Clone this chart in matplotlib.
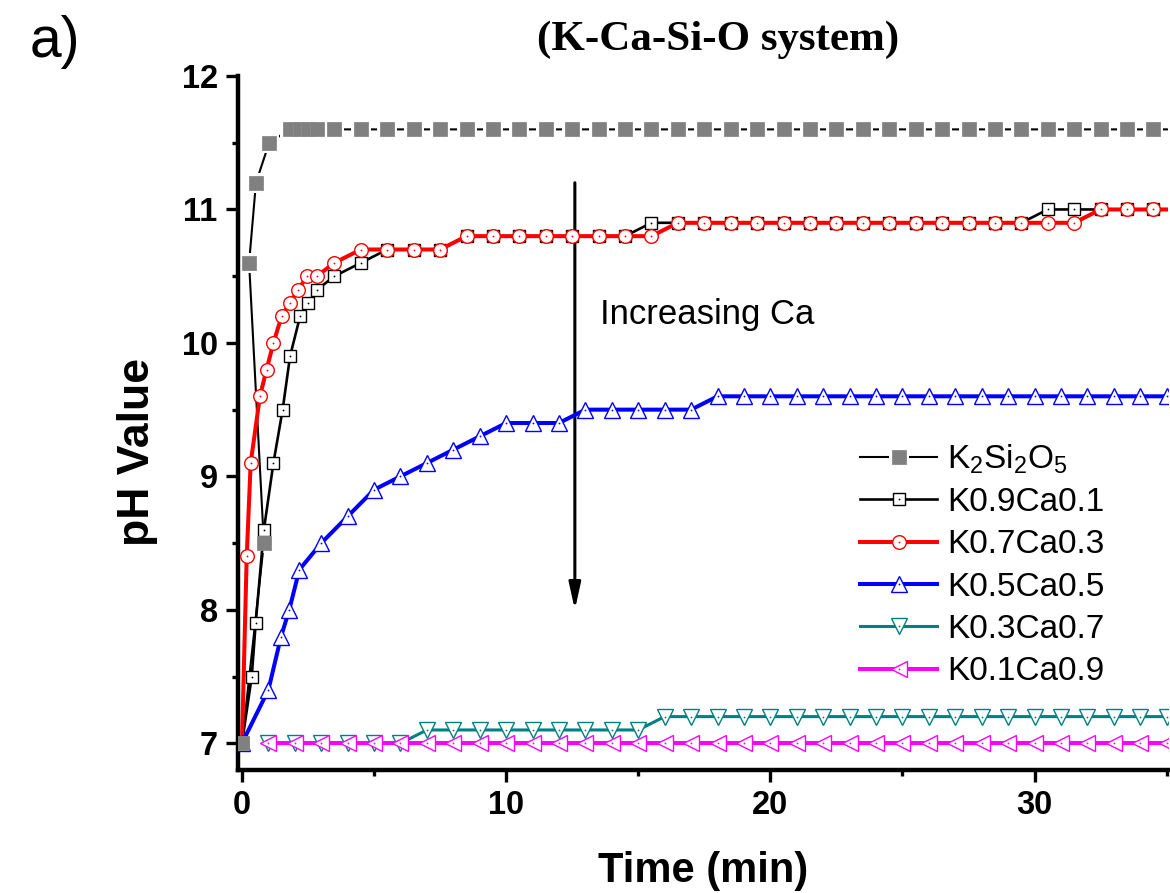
import matplotlib
matplotlib.use('Agg')
import matplotlib.pyplot as plt
from matplotlib.ticker import MultipleLocator
from matplotlib.legend_handler import HandlerTuple

plt.rcParams['font.family'] = ['Liberation Sans', 'DejaVu Sans']
plt.rcParams['mathtext.fontset'] = 'custom'
plt.rcParams['mathtext.rm'] = 'Liberation Sans'
plt.rcParams['mathtext.it'] = 'Liberation Sans:italic'
plt.rcParams['mathtext.bf'] = 'Liberation Sans:bold'

# ---------------- data ----------------
labels = ['K$_2$Si$_2$O$_5$', 'K0.9Ca0.1', 'K0.7Ca0.3', 'K0.5Ca0.5', 'K0.3Ca0.7', 'K0.1Ca0.9']

t_k2 = [0, 0.83, 0.27, 0.53, 1.03, 1.82, 2.2, 2.51, 2.85, 3.5, 4.5, 5.5, 6.5, 7.5, 8.5,
        9.5, 10.5, 11.5, 12.5, 13.5, 14.5, 15.5, 16.5, 17.5, 18.5, 19.5, 20.5, 21.5,
        22.5, 23.5, 24.5, 25.5, 26.5, 27.5, 28.5, 29.5, 30.5, 31.5, 32.5, 33.5, 34.5, 35.5]
ph_k2 = [7.0, 8.5, 10.6, 11.2, 11.5, 11.6, 11.6, 11.6, 11.6, 11.6, 11.6, 11.6, 11.6, 11.6,
         11.6, 11.6, 11.6, 11.6, 11.6, 11.6, 11.6, 11.6, 11.6, 11.6, 11.6, 11.6, 11.6,
         11.6, 11.6, 11.6, 11.6, 11.6, 11.6, 11.6, 11.6, 11.6, 11.6, 11.6, 11.6, 11.6,
         11.6, 11.6]

t_k09 = [0, 0.37, 0.52, 0.83, 1.19, 1.54, 1.82, 2.2, 2.51, 2.85, 3.5, 4.5, 5.5, 6.5, 7.5,
         8.5, 9.5, 10.5, 11.5, 12.5, 13.5, 14.5, 15.5, 16.5, 17.5, 18.5, 19.5, 20.5, 21.5,
         22.5, 23.5, 24.5, 25.5, 26.5, 27.5, 28.5, 29.5, 30.5, 31.5, 32.5, 33.5, 34.5, 35.5]
ph_k09 = [7.0, 7.5, 7.9, 8.6, 9.1, 9.5, 9.9, 10.2, 10.3, 10.4, 10.5, 10.6, 10.7, 10.7, 10.7,
          10.8, 10.8, 10.8, 10.8, 10.8, 10.8, 10.8, 10.9, 10.9, 10.9, 10.9, 10.9, 10.9, 10.9,
          10.9, 10.9, 10.9, 10.9, 10.9, 10.9, 10.9, 10.9, 11.0, 11.0, 11.0, 11.0, 11.0, 11.0]

t_k07 = [0, 0.18, 0.33, 0.68, 0.93, 1.19, 1.5, 1.82, 2.13, 2.47, 2.83, 3.5, 4.5, 5.5, 6.5,
         7.5, 8.5, 9.5, 10.5, 11.5, 12.5, 13.5, 14.5, 15.5, 16.5, 17.5, 18.5, 19.5, 20.5,
         21.5, 22.5, 23.5, 24.5, 25.5, 26.5, 27.5, 28.5, 29.5, 30.5, 31.5, 32.5, 33.5, 34.5, 35.5]
ph_k07 = [7.0, 8.4, 9.1, 9.6, 9.8, 10.0, 10.2, 10.3, 10.4, 10.5, 10.5, 10.6, 10.7, 10.7, 10.7,
          10.7, 10.8, 10.8, 10.8, 10.8, 10.8, 10.8, 10.8, 10.8, 10.9, 10.9, 10.9, 10.9, 10.9,
          10.9, 10.9, 10.9, 10.9, 10.9, 10.9, 10.9, 10.9, 10.9, 10.9, 10.9, 11.0, 11.0, 11.0, 11.0]

t_k05 = [0, 1.0, 1.48, 1.79, 2.17, 3, 4, 5, 6, 7, 8, 9, 10, 11, 12, 13, 14, 15, 16, 17, 18,
         19, 20, 21, 22, 23, 24, 25, 26, 27, 28, 29, 30, 31, 32, 33, 34, 35, 36]
ph_k05 = [7.0, 7.4, 7.8, 8.0, 8.3, 8.5, 8.7, 8.9, 9.0, 9.1, 9.2, 9.3, 9.4, 9.4, 9.4, 9.5, 9.5,
          9.5, 9.5, 9.5, 9.6, 9.6, 9.6, 9.6, 9.6, 9.6, 9.6, 9.6, 9.6, 9.6, 9.6, 9.6, 9.6, 9.6,
          9.6, 9.6, 9.6, 9.6, 9.6]

t_k03 = [1, 2, 3, 4, 5, 6, 7, 8, 9, 10, 11, 12, 13, 14, 15, 16, 17, 18, 19, 20, 21, 22, 23,
         24, 25, 26, 27, 28, 29, 30, 31, 32, 33, 34, 35, 36]
ph_k03 = [7.0, 7.0, 7.0, 7.0, 7.0, 7.0, 7.1, 7.1, 7.1, 7.1, 7.1, 7.1, 7.1, 7.1, 7.1, 7.2, 7.2,
          7.2, 7.2, 7.2, 7.2, 7.2, 7.2, 7.2, 7.2, 7.2, 7.2, 7.2, 7.2, 7.2, 7.2, 7.2, 7.2, 7.2,
          7.2, 7.2]

t_k01 = [1, 2, 3, 4, 5, 6, 7, 8, 9, 10, 11, 12, 13, 14, 15, 16, 17, 18, 19, 20, 21, 22, 23,
         24, 25, 26, 27, 28, 29, 30, 31, 32, 33, 34, 35, 36]
ph_k01 = [7.0, 7.0, 7.0, 7.0, 7.0, 7.0, 7.0, 7.0, 7.0, 7.0, 7.0, 7.0, 7.0, 7.0, 7.0, 7.0, 7.0,
          7.0, 7.0, 7.0, 7.0, 7.0, 7.0, 7.0, 7.0, 7.0, 7.0, 7.0, 7.0, 7.0, 7.0, 7.0, 7.0, 7.0,
          7.0, 7.0]

x_ticks = [0, 10, 20, 30]
y_ticks = [7, 8, 9, 10, 11, 12]

# ---------------- figure ----------------
W, H = 1170, 893
fig = plt.figure(figsize=(W / 100, H / 100), dpi=100)
ax = fig.add_axes([238 / W, 1 - 770 / H, 930 / W, 694 / H])

# K2Si2O5 : thin line with a gap around each filled grey square
ln_k2, = ax.plot(t_k2, ph_k2, color='black', lw=1.5, zorder=2)
halo_k2, = ax.plot(t_k2, ph_k2, ls='none', marker='s', ms=15, mfc='white', mec='white',
                   mew=0, zorder=2.5)
mk_k2, = ax.plot(t_k2, ph_k2, ls='none', marker='s', ms=9.5, mfc='#808080', mec='#8a8a8a',
                 mew=0.6, zorder=9)

series = [
    (t_k09, ph_k09, dict(color='black', lw=1.9, marker='s', ms=8.8, mfc='white', mec='black', mew=1.0)),
    (t_k07, ph_k07, dict(color='#ff0000', lw=2.9, marker='o', ms=9.8, mfc='white', mec='#ff0000', mew=1.0)),
    (t_k05, ph_k05, dict(color='#0000ff', lw=2.9, marker='^', ms=11.5, mfc='white', mec='#0000ff', mew=1.0)),
    (t_k03, ph_k03, dict(color='#008080', lw=2.2, marker='v', ms=11.5, mfc='white', mec='#008080', mew=1.0)),
    (t_k01, ph_k01, dict(color='#ff00ff', lw=2.9, marker='<', ms=11.5, mfc='white', mec='#ff00ff', mew=1.0)),
]
handles = [(ln_k2, halo_k2, mk_k2)]
for i, (tx, py, st) in enumerate(series):
    h, = ax.plot(tx, py, zorder=3 + i, **st)
    # small centre dot drawn inside each open symbol
    d, = ax.plot(tx, py, ls='none', marker='o', ms=1.3, mew=0, mfc=st['color'], zorder=3.5 + i)
    handles.append((h, d))

ax.set_xlim(-0.15, 35.05)
ax.set_ylim(6.8, 12.0)
ax.set_xticks(x_ticks)
ax.set_yticks(y_ticks)
ax.xaxis.set_minor_locator(MultipleLocator(5))
ax.yaxis.set_minor_locator(MultipleLocator(0.5))

for s in ['top', 'right']:
    ax.spines[s].set_visible(False)
for s in ['left', 'bottom']:
    ax.spines[s].set_linewidth(3.2)

ax.tick_params(which='major', direction='out', length=8.6, width=2.4, labelsize=23.5, pad=6)
ax.tick_params(which='minor', direction='out', length=4.3, width=2.4)
for lbl in ax.get_xticklabels() + ax.get_yticklabels():
    lbl.set_fontweight('bold')

ax.set_xlabel('Time (min)', fontsize=30, fontweight='bold')
ax.xaxis.set_label_coords(0.5, (770 - 871) / 694)
ax.xaxis.label.set_va('center')
ax.set_ylabel('pH Value', fontsize=32, fontweight='bold')
ax.yaxis.set_label_coords((138 - 238) / 930, (770 - 452) / 694)
ax.yaxis.label.set_rotation_mode('default')
ax.yaxis.label.set_va('center')
ax.yaxis.label.set_ha('center')

# annotation arrow and text
ax.annotate('', xy=(12.6, 8.0), xytext=(12.6, 11.2),
            arrowprops=dict(arrowstyle='-|>,head_length=1.0,head_width=0.22',
                            lw=2.2, color='black', mutation_scale=16,
                            shrinkA=0, shrinkB=0))
ax.text(13.56, 10.21, 'Increasing Ca', fontsize=25, ha='left', va='center')

leg = ax.legend(handles, labels, loc='upper left', bbox_to_anchor=(0.669, 0.472),
                frameon=False, fontsize=24, handlelength=2.3, handletextpad=0.3,
                labelspacing=0.34, borderpad=0, borderaxespad=0, numpoints=1,
                handler_map={tuple: HandlerTuple(ndivide=1, pad=0)})

fig.text(718 / W, 1 - 40 / H, '(K-Ca-Si-O system)', family=['Liberation Serif', 'DejaVu Serif'],
         fontweight='bold', fontsize=31, ha='center', va='center')
fig.text(55 / W, 1 - 42 / H, 'a)', fontsize=41, ha='center', va='center')

fig.savefig('out.png', dpi=100)
